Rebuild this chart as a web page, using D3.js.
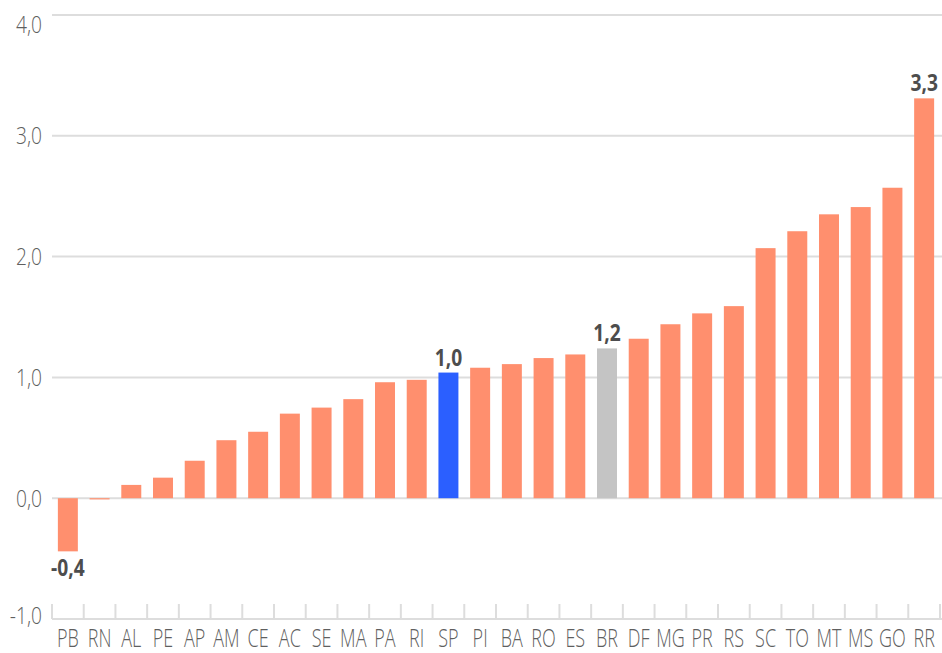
<!DOCTYPE html>
<html>
<head>
<meta charset="utf-8">
<script src="https://cdn.jsdelivr.net/npm/d3@7"></script>
<style>
  body { margin: 0; background: #fff; }
  svg { display: block; }
</style>
</head>
<body>
<div id="chart"></div>
<script>
// states, sorted by value
const states = ["PB", "RN", "AL", "PE", "AP", "AM", "CE", "AC", "SE", "MA", "PA", "RI", "SP", "PI",
  "BA", "RO", "ES", "BR", "DF", "MG", "PR", "RS", "SC", "TO", "MT", "MS", "GO", "RR"];
const values = [-0.44, -0.01, 0.11, 0.17, 0.31, 0.48, 0.55, 0.70, 0.75, 0.82, 0.96, 0.98, 1.04, 1.08,
  1.11, 1.16, 1.19, 1.24, 1.32, 1.44, 1.53, 1.59, 2.07, 2.21, 2.35, 2.41, 2.57, 3.31];
const yTicks = [-1, 0, 1, 2, 3, 4];
const labelled = ["PB", "SP", "BR", "RR"];

const width = 942, height = 653;
const margin = { top: 15, right: 2, bottom: 34, left: 52 };

const data = states.map((s, i) => ({ state: s, value: values[i] }));
// comma decimal and plain hyphen for negatives
const fmt = v => d3.format(".1f")(v).replace(".", ",").replace("\u2212", "-");

const svg = d3.select("#chart").append("svg")
  .attr("width", width).attr("height", height);

const x = d3.scaleBand()
  .domain(states)
  .range([margin.left, width - margin.right])
  .paddingInner(0.37)
  .paddingOuter(0.185);

const y = d3.scaleLinear()
  .domain([-1, 4])
  .range([height - margin.bottom, margin.top]);

// gridlines
svg.append("g").selectAll("line")
  .data(yTicks)
  .enter().append("line")
  .attr("x1", margin.left).attr("x2", width)
  .attr("y1", d => y(d)).attr("y2", d => y(d))
  .attr("stroke", "#dddddd").attr("stroke-width", 2);

// y labels (condensed look via scaleX)
svg.append("g").selectAll("text")
  .data(yTicks)
  .enter().append("text")
  .attr("transform", d => `translate(42, ${y(d) + (d === 4 ? 10 : d === -1 ? -3 : 0)}) scale(0.8,1)`)
  .attr("text-anchor", "end")
  .attr("dy", "0.35em")
  .attr("font-family", "Open Sans")
  .attr("font-weight", 300)
  .attr("font-size", "24px")
  .attr("fill", "#5f5f5f")
  .text(d => fmt(d));

// category separators on the bottom axis
const step = x.step();
const edges = d3.range(states.length + 1).map(i => margin.left + i * step);
svg.append("g").selectAll("line")
  .data(edges)
  .enter().append("line")
  .attr("x1", d => d).attr("x2", d => d)
  .attr("y1", y(-1) - 15).attr("y2", y(-1))
  .attr("stroke", "#dddddd").attr("stroke-width", 2);

// bars
const colorOf = s => s === "SP" ? "#2b5fff" : s === "BR" ? "#c4c4c4" : "#ff8f6e";
svg.append("g").selectAll("rect")
  .data(data)
  .enter().append("rect")
  .attr("x", d => x(d.state))
  .attr("width", x.bandwidth())
  .attr("y", d => y(Math.max(0, d.value)))
  .attr("height", d => Math.max(1, Math.abs(y(d.value) - y(0))))
  .attr("fill", d => colorOf(d.state));

// x labels
svg.append("g").selectAll("text")
  .data(states)
  .enter().append("text")
  .attr("transform", d => `translate(${x(d) + x.bandwidth() / 2}, 647) scale(0.72,1)`)
  .attr("text-anchor", "middle")
  .attr("font-family", "Open Sans")
  .attr("font-weight", 300)
  .attr("font-size", "25px")
  .attr("fill", "#5f5f5f")
  .text(d => d);

// value labels on highlighted bars
svg.append("g").selectAll("text")
  .data(data.filter(d => labelled.includes(d.state)))
  .enter().append("text")
  .attr("transform", d => {
    const cx = x(d.state) + x.bandwidth() / 2;
    const ty = d.value < 0 ? y(d.value) + 25 : y(d.value) - 7;
    return `translate(${cx}, ${ty}) scale(0.8,1)`;
  })
  .attr("text-anchor", "middle")
  .attr("font-family", "Open Sans")
  .attr("font-weight", 700)
  .attr("font-size", "24px")
  .attr("fill", "#4d4d4d")
  .text(d => fmt(d.value));
</script>
</body>
</html>
